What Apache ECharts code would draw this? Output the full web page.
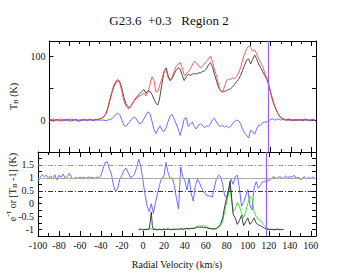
<!DOCTYPE html>
<html><head><meta charset="utf-8">
<script src="https://cdn.jsdelivr.net/npm/echarts@6/dist/echarts.min.js"></script>
<style>html,body{margin:0;padding:0;background:#fff}#c{width:338px;height:274px}</style>
</head><body><div id="c"></div>
<script>
// ---- data ----
const titleText = 'G23.6  +0.3   Region 2';
const xTitle = 'Radial Velocity (km/s)';
// velocity grid for emission spectra (km/s)
const vel = [];
for (let v = -100; v <= 164; v += 2) vel.push(v);
// top panel: ON spectrum (black)
const tbOn = [0,1,-1,0,1,0,-1,1,0,0,1,-1,0,1,0,-1,0,1,0,0,1,0,0,1,1,2,3,5,9,18,30,42,52,58,62,60,50,36,26,21,20,24,30,35,38,42,45,48,42,46,45,40,33,26,24,38,58,76,82,70,62,65,72,78,82,80,70,62,68,72,70,72,73,72,74,74,76,77,80,86,90,84,72,62,52,46,44,45,46,48,49,52,56,60,64,70,78,86,94,96,88,95,102,96,88,82,76,70,64,55,42,30,21,14,8,4,2,1,0,1,0,-1,1,0,0,1,-1,0,1,0,-1,0,0];
// top panel: OFF / expected spectrum (red)
const tbOff = [-1,0,-2,0,1,-2,0,-1,1,0,-2,0,1,-1,0,-2,0,1,0,-1,0,1,0,-1,1,2,3,5,10,20,32,44,55,61,64,58,45,30,22,18,19,25,30,33,36,38,40,42,38,44,56,68,62,44,46,56,66,76,80,66,62,68,76,84,88,90,82,70,72,76,80,86,92,90,86,82,84,88,92,96,100,92,80,70,56,46,44,52,62,64,64,66,65,68,74,82,94,104,112,116,114,108,110,104,96,90,84,74,66,56,44,32,22,14,8,4,2,1,0,-1,1,0,0,1,0,-1,0,1,0,0,1,0,-1];
// top panel: difference (blue)
const tbDiff = [1,-1,2,0,-1,1,2,-1,0,1,-1,2,0,1,-2,1,0,-1,1,0,1,0,-1,1,0,0,0,0,-1,0,1,2,5,9,11,8,0,-8,-10,-6,-2,2,5,3,-3,-6,-4,2,8,13,10,-2,-15,-21,-14,-9,-16,-18,-12,-2,6,9,2,-6,-14,-24,-12,2,4,-10,-6,-3,-10,-14,-8,-6,-8,-12,-9,-10,-6,0,3,-3,-8,-10,-8,-11,-9,-12,-10,-6,-2,0,-1,-6,-14,-20,-24,-28,-16,-18,-22,-14,-8,-8,-4,-3,-3,-1,1,2,0,1,2,0,1,0,1,2,0,1,-1,0,1,0,1,2,0,-1,0,1,0];
// bottom panel: [T_B - 1] (blue)
const tbNorm = [0.85,1.02,1.12,1.05,1.10,0.98,1.08,0.95,1.12,0.92,1.10,1.02,1.15,0.98,1.05,1.18,1.00,0.96,1.02,0.98,1.03,0.99,1.02,0.97,1.04,1.00,1.02,0.98,1.03,1.00,1.08,1.35,1.60,1.62,1.35,1.15,0.70,0.46,0.60,0.95,1.10,1.30,1.38,1.20,1.02,1.05,1.15,1.40,1.72,1.45,0.92,0.35,-0.10,-0.30,0.00,-0.38,0.05,0.40,0.75,1.00,1.05,1.60,1.20,0.98,1.00,0.70,0.20,-0.20,1.42,1.05,0.90,0.52,1.00,0.40,0.10,0.70,0.95,0.80,0.60,0.45,0.35,0.30,0.30,0.25,0.60,0.95,1.10,1.05,0.75,0.30,0.25,0.60,0.95,0.75,1.05,1.10,0.60,-0.10,0.05,0.30,0.55,-0.05,-0.25,0.60,0.85,0.60,0.70,0.85,0.85,0.90,0.88,0.95,1.05,1.00,0.98,1.05,1.02,0.97,1.08,1.00,1.05,1.02,1.10,0.98,1.03,0.92,0.98,1.05,0.95,1.02,0.97,1.04,0.98];
// absorption velocities (km/s)
const absVel = [-4,-2,0,2,4,6,7,8,9,10,12,14,16,18,20,22,24,26,28,30,32,34,36,38,40,42,44,46,48,50,52,54,56,58,60,62,64,66,68,70,72,74,76,78,80,82,83,84,86,88,90,92,94,96,98,100,102,104,106,108,110,112,114,116,118,120,122,124,126,128,130,132,134];
// absorption e^-tau (black)
const absBlack = [-1.00,-0.98,-1.02,-0.99,-1.00,-0.97,-0.70,-0.33,-0.85,-1.00,-0.98,-1.02,-0.99,-1.01,-0.98,-1.00,-0.97,-1.01,-0.99,-1.00,-0.98,-1.00,-0.97,-0.99,-0.98,-0.96,-0.97,-0.95,-0.96,-0.93,-0.90,-0.92,-0.90,-0.93,-0.92,-0.95,-0.96,-0.97,-0.98,-0.96,-0.90,-0.80,-0.55,-0.10,0.25,0.60,0.86,0.50,-0.40,-0.55,-0.80,-0.65,-0.45,-0.85,-0.70,-0.55,-0.80,-0.70,-0.55,-0.75,-0.82,-0.85,-0.90,-0.95,-0.98,-1.00,-0.99,-1.01,-1.00,-0.98,-1.01,-1.00,-0.99];
// absorption e^-tau (green)
const absGreen = [-1.00,-1.01,-0.99,-1.00,-0.98,-1.00,-0.98,-0.97,-1.00,-1.00,-0.99,-1.00,-0.98,-1.00,-0.99,-1.01,-0.98,-1.00,-0.99,-0.98,-1.00,-0.99,-0.97,-0.98,-0.97,-0.96,-0.97,-0.96,-0.95,-0.95,-0.88,-0.85,-0.87,-0.85,-0.88,-0.93,-0.96,-0.97,-0.98,-0.96,-0.92,-0.85,-0.70,-0.30,0.10,0.45,0.70,0.30,-0.30,-0.20,0.05,-0.10,-0.35,-0.55,-0.30,0.00,0.30,0.20,-0.30,-0.50,-0.60,-0.65,-0.75,-0.85,-0.95,-0.98,-1.00,-0.99,-1.01,-1.00,-0.99,-1.00,-1.01];
const vMarker = 118;
const refLines = [1.5, 1.0, 0.5];

// ---- chart ----
const FONT = 'Liberation Serif';
const pairs = (xs, ys) => xs.map((x, i) => [x, ys[i]]);
const chart = echarts.init(document.getElementById('c'), null, {renderer: 'svg'});
const xBase = (grid, pos, showLabel, extra) => Object.assign({
  type: 'value', gridIndex: grid, position: pos, min: -100, max: 165, interval: 20,
  axisLine: {show: true, onZero: false, lineStyle: {color: '#000', width: 1}},
  axisTick: {show: true, inside: true, length: 5, lineStyle: {color: '#000'}},
  minorTick: {show: true, splitNumber: 2, length: 3, lineStyle: {color: '#000'}},
  axisLabel: {show: showLabel, fontFamily: FONT, fontSize: 10, color: '#111', margin: 4},
  splitLine: {show: false}
}, extra || {});
const yBase = (grid, pos, min, max, interval, fmt, extra) => Object.assign({
  type: 'value', gridIndex: grid, position: pos, min: min, max: max, interval: interval,
  axisLine: {show: true, onZero: false, lineStyle: {color: '#000', width: 1}},
  axisTick: {show: true, inside: true, length: 4, lineStyle: {color: '#000'}},
  axisLabel: {show: !!fmt, formatter: fmt, fontFamily: FONT, fontSize: 10, color: '#111', margin: 4,
              showMinLabel: true, showMaxLabel: true},
  splitLine: {show: false}
}, extra || {});
const lineS = (name, xi, yi, data, color, extra) => Object.assign({
  name: name, type: 'line', xAxisIndex: xi, yAxisIndex: yi, data: data,
  showSymbol: false, symbol: 'none', lineStyle: {color: color, width: 0.9}, animation: false, z: 3
}, extra || {});

chart.setOption({
  animation: false,
  title: {text: titleText, left: 'center', top: 9,
          textStyle: {fontFamily: FONT, fontSize: 13, fontWeight: 'normal', color: '#111'}},
  grid: [
    {left: 38, right: 22, top: 41, height: 111, show: false},
    {left: 38, right: 22, top: 152, height: 84, show: false}
  ],
  xAxis: [
    xBase(0, 'bottom', false),
    xBase(0, 'top', false),
    xBase(1, 'bottom', true, {name: xTitle, nameLocation: 'middle', nameGap: 23,
      nameTextStyle: {fontFamily: FONT, fontSize: 10, color: '#111'}}),
    xBase(1, 'top', false)
  ],
  yAxis: [
    yBase(0, 'left', -50, 124, 50, v => (v === 0 || v === 100) ? String(v) : '',
      {name: 'T{sub|B} (K)', nameLocation: 'middle', nameGap: 23, nameRotate: 90,
       nameTextStyle: {fontFamily: FONT, fontSize: 10, color: '#111',
         rich: {sub: {fontFamily: FONT, fontSize: 7, color: '#111', padding: [6, 0, 0, 0]}}}}),
    yBase(0, 'right', -50, 124, 50, null),
    yBase(1, 'left', -1.25, 2, 0.25, v => {
      const r = Math.round(v * 100) / 100;
      if (Math.abs(r * 2 - Math.round(r * 2)) > 1e-6 || r >= 2 || r < -1) return '';
      return String(r);
    }),
    yBase(1, 'right', -1.25, 2, 0.25, null)
  ],
  graphic: [{
    type: 'text', x: 12, y: 187, rotation: Math.PI / 2, z: 10,
    style: {text: 'e{sup|-τ} or [T{sub|B} -1] (K)', align: 'center', verticalAlign: 'middle',
      fontFamily: FONT, fontSize: 10, fill: '#111',
      rich: {sup: {fontFamily: FONT, fontSize: 8, fill: '#111', padding: [0, 0, 7, 0]},
             sub: {fontFamily: FONT, fontSize: 7, fill: '#111', padding: [6, 0, 0, 0]}}}
  }],
  series: [
    lineS('TB on', 0, 0, pairs(vel, tbOn), '#3a3a3a', {
      markLine: {silent: true, symbol: 'none', label: {show: false}, animation: false,
        lineStyle: {color: '#9b5cf0', width: 1.2, type: 'solid'}, data: [{xAxis: vMarker}]}}),
    lineS('TB off', 0, 0, pairs(vel, tbOff), '#ff4848'),
    lineS('TB diff', 0, 0, pairs(vel, tbDiff), '#5c5cff'),
    lineS('TB norm', 2, 2, pairs(vel, tbNorm), '#5c5cff', {
      markLine: {silent: true, symbol: 'none', label: {show: false}, animation: false,
        data: [
          {yAxis: refLines[0], lineStyle: {color: '#888', width: 0.8, type: [5, 2, 1, 2]}},
          {yAxis: refLines[1], lineStyle: {color: '#aaa', width: 1, type: 'solid'}},
          {yAxis: refLines[2], lineStyle: {color: '#222', width: 0.9, type: [5, 2, 1, 2]}},
          {xAxis: vMarker, lineStyle: {color: '#9b5cf0', width: 1.2, type: 'solid'}}
        ]}}),
    lineS('abs green', 2, 2, pairs(absVel, absGreen), '#2ade2a'),
    lineS('abs black', 2, 2, pairs(absVel, absBlack), '#2a2a2a', {z: 4})
  ]
});
</script></body></html>
